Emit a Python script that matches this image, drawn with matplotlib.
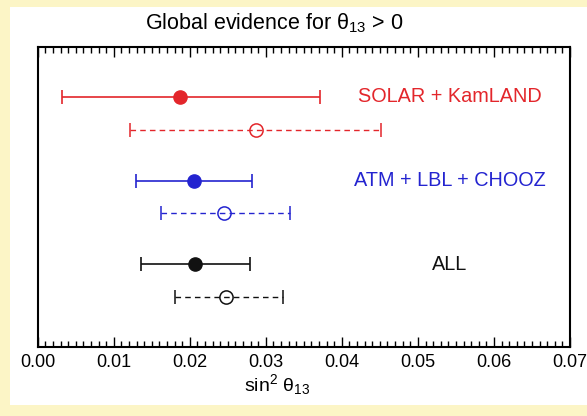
import matplotlib
matplotlib.use("Agg")
import matplotlib.pyplot as plt
from matplotlib.patches import Rectangle
from matplotlib.ticker import MultipleLocator

plt.rcParams['font.family'] = ['Liberation Sans', 'DejaVu Sans']
plt.rcParams['mathtext.fontset'] = 'custom'
plt.rcParams['mathtext.rm'] = 'Liberation Sans'
plt.rcParams['mathtext.it'] = 'Liberation Sans'

# best fit and 1-sigma range of sin^2 theta13 for each data set
datasets = ['SOLAR + KamLAND', 'ATM + LBL + CHOOZ', 'ALL']
colors = ['#e3262b', '#2424d0', '#111111']
solid_lo = [0.0032, 0.0129, 0.0136]
solid_best = [0.0187, 0.0205, 0.0207]
solid_hi = [0.0371, 0.0282, 0.0279]
dashed_lo = [0.0121, 0.0162, 0.0181]
dashed_best = [0.0287, 0.0245, 0.0247]
dashed_hi = [0.0452, 0.0332, 0.0322]

fig = plt.figure(figsize=(5.87, 4.16), dpi=100, facecolor='#fcf5c6')
fig.patches.append(Rectangle((10 / 587, 11 / 416), 1.0, 398 / 416,
                             transform=fig.transFigure, facecolor='white',
                             edgecolor='none', zorder=-5))
ax = fig.add_axes([37.7 / 587, 69 / 416, 532.3 / 587, 300 / 416])

for i, name in enumerate(datasets):
    c = colors[i]
    y1 = 50 + 83.5 * i
    y2 = y1 + 32.5
    ax.errorbar(solid_best[i], y1,
                xerr=[[solid_best[i] - solid_lo[i]], [solid_hi[i] - solid_best[i]]],
                fmt='o', color=c, ms=9.5, mfc=c, mec=c, elinewidth=1.2,
                capsize=5, capthick=1.2)
    eb = ax.errorbar(dashed_best[i], y2,
                     xerr=[[dashed_best[i] - dashed_lo[i]], [dashed_hi[i] - dashed_best[i]]],
                     fmt='o', color=c, ms=9.5, mfc='none', mec=c, mew=1.1,
                     elinewidth=1.0, capsize=5, capthick=1.0)
    for lc in eb[2]:
        lc.set_linestyle((0, (4, 3)))
    for cap in eb[1]:
        cap.set_linestyle((0, (2, 1.5)))
    ax.text(0.0542, y1, name, color=c, fontsize=14.3, ha='center', va='center')

ax.set_xlim(0, 0.07)
ax.set_ylim(300, 0)
ax.xaxis.set_major_locator(MultipleLocator(0.01))
ax.xaxis.set_minor_locator(MultipleLocator(0.001))
ax.xaxis.set_major_formatter(matplotlib.ticker.FormatStrFormatter('%.2f'))
ax.tick_params(axis='x', which='both', direction='in', top=True, bottom=True,
               labelsize=13, width=1.0, pad=5)
ax.tick_params(axis='x', which='major', length=7)
ax.tick_params(axis='x', which='minor', length=4)
ax.set_yticks([])
for s in ax.spines.values():
    s.set_linewidth(1.5)

ax.set_xlabel(r'sin$^2$ $\theta_{13}$', fontsize=14)
ax.xaxis.set_label_coords((277 - 37.7) / 532.3, -0.085)
fig.text(274 / 587, 1 - 23 / 416, r'Global evidence for $\theta_{13}$ > 0',
         fontsize=15.5, ha='center', va='center')

fig.savefig('out.png', dpi=100, facecolor=fig.get_facecolor())
